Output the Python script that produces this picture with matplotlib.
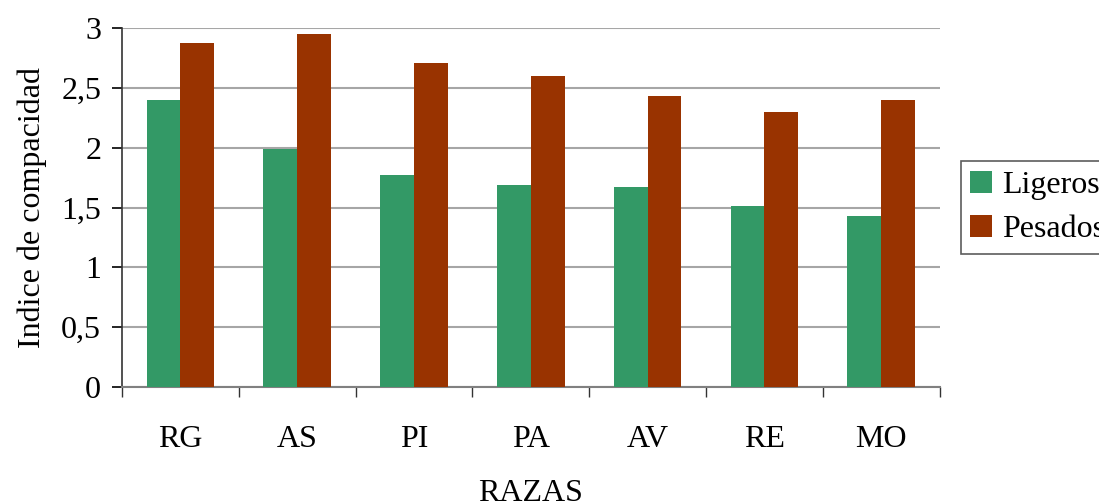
import numpy as np
import matplotlib.pyplot as plt
from matplotlib.ticker import FixedLocator

plt.rcParams['font.family'] = ['Liberation Serif', 'DejaVu Serif']

# Razas y valores del indice de compacidad
razas = ['RG', 'AS', 'PI', 'PA', 'AV', 'RE', 'MO']
ligeros = [2.40, 1.99, 1.77, 1.69, 1.67, 1.51, 1.43]
pesados = [2.88, 2.95, 2.71, 2.60, 2.43, 2.30, 2.40]
yticks = [0, 0.5, 1, 1.5, 2, 2.5, 3]
ytick_labels = ['0', '0,5', '1', '1,5', '2', '2,5', '3']

verde = '#339966'
rojo = '#993300'
fs = 23

fig = plt.figure(figsize=(10.99, 5.01), dpi=100)
ax = fig.add_axes([0.111, 0.2275, 0.744, 0.716])

x = np.arange(len(razas))
w = 0.29
ax.bar(x - w / 2, ligeros, w, color=verde, label='Ligeros', zorder=3)
ax.bar(x + w / 2, pesados, w, color=rojo, label='Pesados', zorder=3)

ax.set_xlim(-0.5, len(razas) - 0.5)
ax.set_ylim(0, 3)

# Lineas de cuadricula horizontales
ax.set_yticks(yticks)
ax.set_yticklabels(ytick_labels)
ax.yaxis.grid(True, color='#a6a6a6', linewidth=1.5, zorder=0)
ax.set_axisbelow(True)

# Etiquetas centradas, marcas entre categorias
ax.set_xticks(x)
ax.set_xticklabels(razas)
ax.xaxis.set_minor_locator(FixedLocator(np.arange(len(razas) + 1) - 0.5))
ax.tick_params(axis='x', which='major', length=0, pad=27, labelsize=fs)
ax.tick_params(axis='x', which='minor', length=7, width=1, color='#333333', direction='out')
ax.tick_params(axis='y', length=7, width=1.2, pad=8, labelsize=fs, direction='out')

for s in ['top', 'right']:
    ax.spines[s].set_visible(False)
ax.spines['left'].set_color('#333333')
ax.spines['left'].set_linewidth(1.2)
ax.spines['bottom'].set_color('#808080')
ax.spines['bottom'].set_linewidth(1.5)

ax.set_xlabel('RAZAS', fontsize=fs, labelpad=18)
ax.set_ylabel('Indice de compacidad', fontsize=fs, labelpad=10)

leg = fig.legend(loc='upper left', bbox_to_anchor=(0.874, 0.678),
                 fontsize=fs, frameon=True, fancybox=False,
                 edgecolor='#333333', handlelength=0.7, handleheight=0.7,
                 handletextpad=0.3, borderpad=0.3, labelspacing=0.45,
                 borderaxespad=0)
leg.get_frame().set_linewidth(1.2)

fig.savefig('out.png', dpi=100)
